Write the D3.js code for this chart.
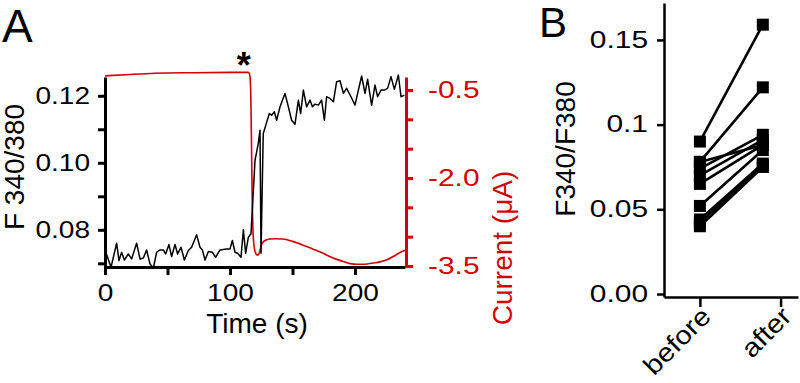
<!DOCTYPE html>
<html><head><meta charset="utf-8">
<script src="https://cdn.jsdelivr.net/npm/d3@7"></script>
<style>
body{margin:0;background:#fff}
svg{display:block}
text{font-family:"Liberation Sans",Arial,Helvetica,sans-serif}
</style>
</head><body><svg id="c" width="800" height="383"></svg>
<script>
// ---- Panel A: fura-2 ratio trace (black)
const traceTime = [0.5,4.8,9.3,11.2,13.3,15.5,18.7,21.3,25.3,28,30.7,33.3,36,38.7,41.3,44,46.7,48.5,51.2,53.3,56,58.1,60.8,63.5,66.7,69.3,73.3,76,77.9,80,82.7,85.9,88.5,92,97.3,100,101.9,104,106.1,108.8,110.7,112.5,114.7,116.8,120,122.6,124,124.8,126.6,129.4,131.5,133.3,135.5,137.3,140,144,146.7,149.3,152,154.7,156.5,158.7,161.3,164,165.9,168,170.7,173.3,175.5,177.3,180,182.7,185.3,188,190.7,193.3,196.8,200,202.7,205.3,208,210.1,213.3,216,218.1,220.8,223.5,226.1,228.8,231.5,234.7,236.8,239.5];
const traceRatio = [0.0735,0.0688,0.0760,0.0708,0.0733,0.0710,0.0728,0.0713,0.0760,0.0713,0.0716,0.0740,0.0698,0.0686,0.0733,0.0740,0.0740,0.0728,0.0756,0.0720,0.0756,0.0728,0.0748,0.0710,0.0738,0.0748,0.0785,0.0748,0.0740,0.0710,0.0735,0.0733,0.0718,0.0740,0.0743,0.0743,0.0768,0.0733,0.0730,0.0718,0.0800,0.0730,0.0778,0.0788,0.1007,0.1057,0.1097,0.0730,0.1087,0.1122,0.1147,0.1142,0.1152,0.1127,0.1167,0.1207,0.1167,0.1127,0.1115,0.1187,0.1147,0.1217,0.1167,0.1187,0.1167,0.1175,0.1172,0.1187,0.1127,0.1197,0.1192,0.1182,0.1242,0.1245,0.1207,0.1222,0.1197,0.1172,0.1217,0.1259,0.1207,0.1249,0.1172,0.1232,0.1197,0.1217,0.1217,0.1222,0.1257,0.1219,0.1262,0.1197,0.1202];
// ---- Panel A: membrane current (red)
const currentTime = [0,20,40,70,100,114.5,115.5,116.3,116.8,117.3,117.8,118.4,119.2,120.3,121.5,122.7,123.8,125,126.5,128.5,132,136,142,150,158,166,174,182,190,196,202,208,214,220,226,232,236,240];
const currentValue = [-0.26,-0.235,-0.215,-0.205,-0.2,-0.2,-0.22,-0.35,-0.8,-1.6,-2.4,-2.9,-3.15,-3.27,-3.31,-3.31,-3.25,-3.15,-3.09,-3.06,-3.04,-3.035,-3.04,-3.08,-3.14,-3.21,-3.28,-3.36,-3.42,-3.46,-3.47,-3.47,-3.45,-3.43,-3.39,-3.32,-3.27,-3.23];
const ratioTicks = [0.07,0.08,0.09,0.10,0.11,0.12];
const ratioTickLabels = ["","0.08","","0.10","","0.12"];
const timeTicks = [0,50,100,150,200];
const timeTickLabels = ["0","","100","","200"];
const currentTicks = [-3.5,-3.0,-2.5,-2.0,-1.5,-1.0,-0.5];
const currentTickLabels = ["-3.5","","","-2.0","","","-0.5"];
const stimTime = [111];
// ---- Panel B: before/after pairs
const groups = ["before","after"];
const groupTickPos = [1,2];
const groupMarkPos = [1,1.78];
const beforeVals = [0.090,0.078,0.078,0.074,0.070,0.065,0.052,0.044,0.042,0.040];
const afterVals  = [0.159,0.122,0.088,0.094,0.091,0.088,0.085,0.077,0.076,0.075];
const pairTicks = [0,0.05,0.1,0.15];
const pairTickLabels = ["0.00","0.05","0.1","0.15"];

const RED = "#d40000";
const svg = d3.select("#c");

function stretch(sel, f){
  sel.each(function(){
    const n = this.getComputedTextLength();
    if(n>0){ d3.select(this).attr("textLength", n*f).attr("lengthAdjust","spacingAndGlyphs"); }
  });
}

// ===== Panel A =====
const xA = d3.scaleLinear().domain([0,240]).range([105,405]);
const yA = d3.scaleLinear().domain([0.0689,0.1256]).range([267,77]);
const yC = d3.scaleLinear().domain([-3.5,-0.5]).range([266,90]);

const gA = svg.append("g");

// red current
gA.append("path")
  .datum(currentTime.map((t,i)=>[t,currentValue[i]]))
  .attr("fill","none").attr("stroke",RED).attr("stroke-width",1.6)
  .attr("d", d3.line().x(d=>xA(d[0])).y(d=>yC(d[1])).curve(d3.curveMonotoneX));

// black ratio
gA.append("path")
  .datum(traceTime.map((t,i)=>[t,traceRatio[i]]))
  .attr("fill","none").attr("stroke","#000").attr("stroke-width",1.5).attr("stroke-linejoin","round")
  .attr("d", d3.line().x(d=>xA(d[0])).y(d=>yA(d[1])));

// left axis
const axL = gA.append("g").attr("transform","translate(105,0)")
  .call(d3.axisLeft(yA).tickValues(ratioTicks).tickFormat((d,i)=>ratioTickLabels[i]).tickSize(7).tickSizeOuter(0).tickPadding(8));
axL.selectAll("path,line").attr("stroke","#000").attr("stroke-width",3);
axL.selectAll("text").attr("font-size",23).attr("fill","#000").attr("font-family",null).call(stretch,1.22);

// bottom axis
const axB = gA.append("g").attr("transform","translate(0,267)")
  .call(d3.axisBottom(xA).tickValues(timeTicks).tickFormat((d,i)=>timeTickLabels[i]).tickSize(8).tickSizeOuter(0).tickPadding(10));
axB.selectAll("path,line").attr("stroke","#000").attr("stroke-width",3);
axB.selectAll("text").attr("font-size",23).attr("fill","#000").attr("font-family",null).call(stretch,1.22);

// right axis (red)
const axR = gA.append("g").attr("transform","translate(406,0)")
  .call(d3.axisRight(yC.copy().domain([-3.517,-0.278]).range([267,77])).tickValues(currentTicks).tickFormat((d,i)=>currentTickLabels[i]).tickSize(7).tickSizeOuter(0).tickPadding(15));
axR.selectAll("path,line").attr("stroke",RED).attr("stroke-width",3);
axR.selectAll("text").attr("font-size",23).attr("fill",RED).attr("font-family",null).call(stretch,1.3);

// axis titles
gA.append("text").attr("x",(xA(0)+xA(240))/2+2).attr("y",333).attr("text-anchor","middle")
  .attr("font-size",28).text("Time (s)");
gA.append("text").attr("transform","translate(24,167) rotate(-90)").attr("text-anchor","middle")
  .attr("font-size",28).text("F 340/380");
gA.append("text").attr("transform","translate(512,248) rotate(-90)").attr("text-anchor","middle")
  .attr("font-size",28).attr("fill",RED).text("Current (μA)");

// stimulus asterisk
gA.selectAll("text.star").data(stimTime).enter().append("text").attr("class","star")
  .attr("x",d=>xA(d)).attr("y",78).attr("text-anchor","middle")
  .attr("font-size",36).attr("font-weight","bold").text("*");

// panel label A
svg.append("text").attr("x",2).attr("y",42).attr("font-size",46).text("A");

// ===== Panel B =====
const xB = d3.scaleLinear().domain([0.555,2.216]).range([664,798]);
const yB = d3.scaleLinear().domain([-0.00177,0.1718]).range([297,3]);
const gB = svg.append("g");

const pairs = beforeVals.map((b,i)=>[b,afterVals[i]]);
gB.selectAll("line.pair").data(pairs).enter().append("line").attr("class","pair")
  .attr("x1",xB(groupMarkPos[0])).attr("x2",xB(groupMarkPos[1]))
  .attr("y1",d=>yB(d[0])).attr("y2",d=>yB(d[1]))
  .attr("stroke","#000").attr("stroke-width",2.6);

const sq = 12;
[beforeVals, afterVals].forEach((vals,gi)=>{
  gB.selectAll("rect.g"+gi).data(vals).enter().append("rect").attr("class","g"+gi)
    .attr("x",xB(groupMarkPos[gi])-sq/2).attr("y",d=>yB(d)-sq/2)
    .attr("width",sq).attr("height",sq).attr("fill","#000");
});

const axBL = gB.append("g").attr("transform","translate(664,0)")
  .call(d3.axisLeft(yB).tickValues(pairTicks).tickFormat((d,i)=>pairTickLabels[i]).tickSize(7).tickSizeOuter(0).tickPadding(9));
axBL.selectAll("path,line").attr("stroke","#000").attr("stroke-width",2.5);
axBL.selectAll("text").attr("font-size",23).attr("fill","#000").attr("font-family",null).call(stretch,1.3);

const axBB = gB.append("g").attr("transform","translate(0,297)")
  .call(d3.axisBottom(xB).tickValues(groupTickPos).tickFormat((d,i)=>groups[i]).tickSize(10).tickSizeOuter(0));
axBB.selectAll("path,line").attr("stroke","#000").attr("stroke-width",2.5);
axBB.selectAll("text").attr("font-size",26).attr("fill","#000").attr("font-family",null)
  .attr("text-anchor","end").attr("dy",null).attr("y",0)
  .attr("transform","translate(12,21) rotate(-45)").call(stretch,1.12);

gB.append("text").attr("transform","translate(575,149) rotate(-90)").attr("text-anchor","middle")
  .attr("font-size",28).text("F340/F380");

svg.append("text").attr("x",539).attr("y",37).attr("font-size",42).text("B");
</script>
</body></html>
